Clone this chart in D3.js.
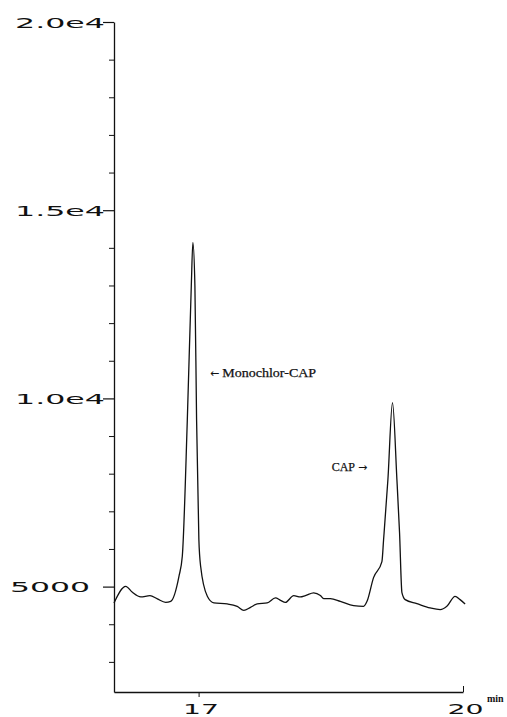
<!DOCTYPE html>
<html>
<head>
<meta charset="utf-8">
<script src="https://cdn.jsdelivr.net/npm/d3@7/dist/d3.min.js"></script>
<style>
  body { margin: 0; background: #fff; }
  .tick line, .domain { stroke: #111; }
</style>
</head>
<body>
<div id="chart"></div>
<script>
// retention time (min) and detector signal
const times = [16.04, 16.173, 16.249, 16.344, 16.448, 16.532, 16.626, 16.683, 16.777, 16.815,
  16.872, 16.917, 16.935, 16.958, 16.977, 17.003, 17.023, 17.099, 17.173, 17.325,
  17.438, 17.513, 17.589, 17.665, 17.778, 17.872, 17.929, 17.985, 18.079, 18.155,
  18.212, 18.306, 18.382, 18.419, 18.495, 18.608, 18.759, 18.872, 18.911, 18.985,
  19.080, 19.099, 19.148, 19.200, 19.250, 19.280, 19.307, 19.344, 19.477, 19.627,
  19.741, 19.817, 19.910, 19.967, 20.024];
const signal = [4566, 5008, 4848, 4726, 4761, 4673, 4582, 4609, 5274, 5806,
  9442, 12987, 14142, 12987, 9442, 6250, 5540, 4742, 4566, 4540,
  4476, 4370, 4449, 4540, 4566, 4699, 4636, 4582, 4761, 4726,
  4761, 4832, 4761, 4681, 4681, 4609, 4495, 4476, 4609, 5239,
  5665, 6250, 7846, 9886, 7846, 6436, 4840, 4654, 4548, 4433,
  4388, 4476, 4742, 4654, 4540];

const yMajorTicks = [5000, 10000, 15000, 20000];
const yTickLabels = ['5000', '1.0e4', '1.5e4', '2.0e4'];
const yMinorTicks = [3000, 4000, 6000, 7000, 8000, 9000, 11000, 12000, 13000, 14000,
  16000, 17000, 18000, 19000];
const xTicks = [17, 20];
const xTickLabels = ['17', '20'];
const peakNames = ['Monochlor-CAP', 'CAP'];
const peakArrowLeft = [true, false];
const peakLabelTimes = [17.129, 18.51];
const peakLabelLevels = [10700, 8200];

const width = 507, height = 717;
const svg = d3.select('#chart').append('svg')
  .attr('width', width)
  .attr('height', height)
  .style('background', '#fff');

const x = d3.scaleLinear().domain([16.04, 20]).range([114, 463]);
const y = d3.scaleLinear().domain([2200, 20000]).range([692, 22]);

const plotFont = 'DejaVu Sans, sans-serif';

// minor ticks + axis line
svg.append('g')
  .attr('transform', 'translate(114,0)')
  .call(d3.axisLeft(y).tickValues(yMinorTicks).tickSize(5).tickSizeOuter(0).tickFormat(''))
  .call(g => g.select('.domain').attr('stroke-width', 1.3));

// major ticks with plotter-style labels
const yMajor = svg.append('g')
  .attr('transform', 'translate(114,0)')
  .call(d3.axisLeft(y).tickValues(yMajorTicks).tickSize(11).tickSizeOuter(0)
    .tickFormat((d, i) => yTickLabels[i]));
yMajor.select('.domain').remove();
yMajor.selectAll('.tick line').attr('stroke-width', 1.2);
yMajor.selectAll('.tick text')
  .attr('text-anchor', 'start')
  .attr('x', d => d === 5000 ? -104 : -99)
  .attr('dy', '0.36em')
  .attr('textLength', d => d === 5000 ? 80 : 90)
  .attr('lengthAdjust', 'spacingAndGlyphs')
  .style('font-family', plotFont)
  .style('font-size', '14px')
  .attr('fill', '#111');

// x axis
const xAxis = svg.append('g')
  .attr('transform', 'translate(0,692)')
  .call(d3.axisBottom(x).tickValues(xTicks).tickSize(4).tickSizeOuter(0)
    .tickFormat((d, i) => xTickLabels[i]));
xAxis.select('.domain').attr('stroke-width', 1.3);
xAxis.selectAll('.tick line').attr('y2', d => d === 20 ? -6 : 5);
xAxis.selectAll('.tick text')
  .attr('y', 22)
  .attr('dy', 0)
  .attr('dx', 2)
  .attr('textLength', 36)
  .attr('lengthAdjust', 'spacingAndGlyphs')
  .style('font-family', plotFont)
  .style('font-size', '14px')
  .attr('fill', '#111');

svg.append('text')
  .attr('x', x(20) + 24)
  .attr('y', 702)
  .style('font-family', 'Liberation Serif, serif')
  .style('font-size', '10px')
  .style('font-weight', 'bold')
  .attr('fill', '#111')
  .text('min');

// trace
const points = times.map((t, i) => [t, signal[i]]);
svg.append('path')
  .datum(points)
  .attr('fill', 'none')
  .attr('stroke', '#111')
  .attr('stroke-width', 1.3)
  .attr('d', d3.line()
    .x(d => x(d[0]))
    .y(d => y(d[1]))
    .curve(d3.curveMonotoneX));

// peak annotations
const labels = svg.selectAll('.peak-label')
  .data(peakNames)
  .enter().append('text')
  .attr('class', 'peak-label')
  .attr('x', (d, i) => x(peakLabelTimes[i]))
  .attr('y', (d, i) => y(peakLabelLevels[i]))
  .attr('dy', '0.35em')
  .attr('fill', '#111')
  .style('font-family', 'Liberation Serif, serif')
  .style('font-size', '13px');

labels.each(function(d, i) {
  const t = d3.select(this);
  const arrow = () => t.append('tspan')
    .style('font-family', 'DejaVu Sans, sans-serif')
    .style('font-size', '11px')
    .text(peakArrowLeft[i] ? '\u2190' : '\u2192');
  if (peakArrowLeft[i]) {
    arrow();
    t.append('tspan').attr('dx', 3)
      .attr('textLength', 94).attr('lengthAdjust', 'spacingAndGlyphs')
      .attr('stroke', '#111').attr('stroke-width', 0.25)
      .text(d);
  } else {
    t.append('tspan')
      .style('font-size', '12px')
      .attr('stroke', '#111').attr('stroke-width', 0.25)
      .text(d);
    arrow().attr('dx', 3);
  }
});
</script>
</body>
</html>
